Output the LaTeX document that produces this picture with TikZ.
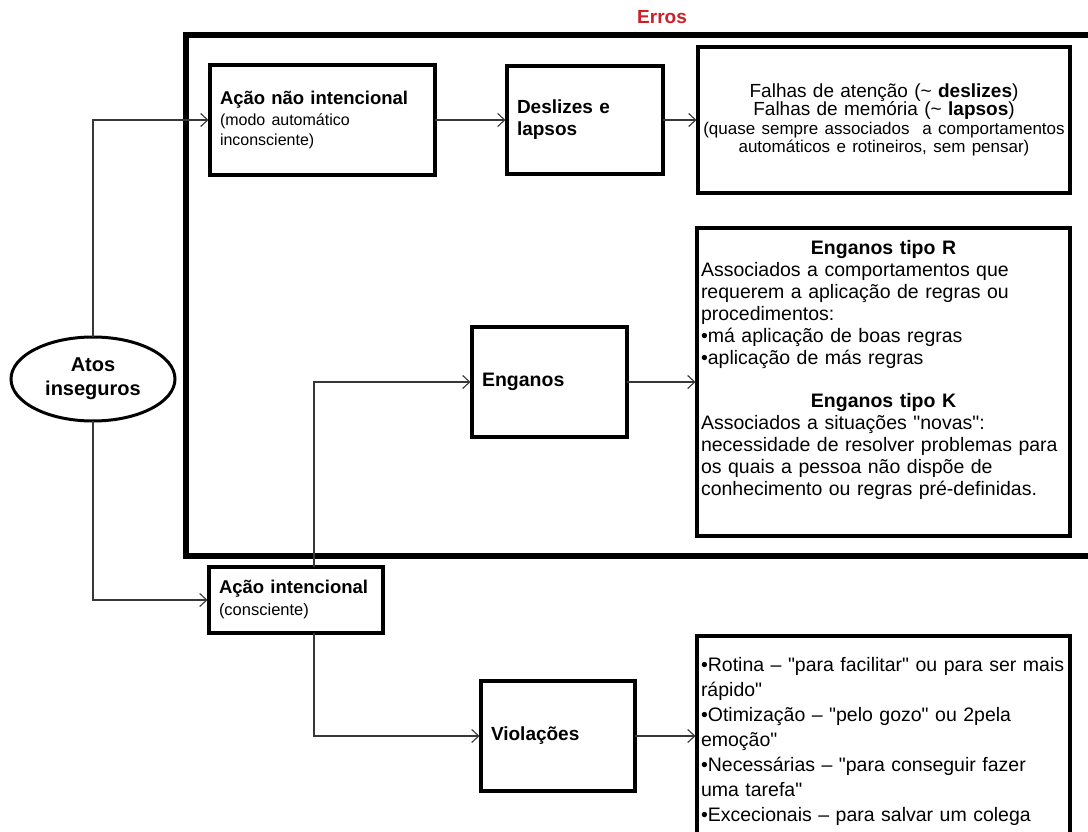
\documentclass[tikz,border=0pt]{standalone}
\usepackage{fontspec}
\setmainfont{Liberation Sans}
\usetikzlibrary{arrows.meta,shapes.geometric}
\definecolor{erroRed}{RGB}{204,32,40}
\definecolor{linkGray}{RGB}{55,55,55}
\newcommand{\fsz}[2]{\fontsize{#1}{#2}\selectfont}
\newcommand{\dq}{\textquotedbl{}}

\begin{document}
\begin{tikzpicture}[x=1pt,y=-1pt,
  every node/.style={inner sep=0pt, outer sep=0pt},
  box/.style={draw=black, line width=3.5pt, fill=white, rectangle,
    inner xsep=10pt, inner ysep=0pt, align=left},
  link/.style={draw=linkGray, line width=1.1pt,
    -{Straight Barb[length=7pt,width=13pt]}, shorten >=1.5pt},
  bodytext/.style={align=left, anchor=north west},
]
\useasboundingbox (0,0) rectangle (1088,832);
\clip (0,0) rectangle (1088,832);
\fill[white] (0,0) rectangle (1088,832);

% group frame "Erros"
\node[draw=black, line width=6pt, minimum width=914pt, minimum height=521pt]
  (errosFrame) at (643,295.5) {};
\node[font=\fsz{19}{20}\bfseries, text=erroRed] (errosLabel) at (662,17) {Erros};

% starting point
\node[draw=black, line width=3pt, ellipse, fill=white, minimum width=164pt,
  minimum height=84pt, align=center, font=\fsz{20}{24}\bfseries]
  (atos) at (93,379) {Atos\\inseguros};

% unintended action branch
\node[box, text width=205pt, minimum height=110pt, font=\fsz{18.5}{20.5}]
  (acaoNI) at (322.5,120)
  {{\bfseries Ação não intencional}\\{\fsz{16}{20.5}(modo automático}\\{\fsz{16}{20.5}inconsciente)}};
\node[box, text width=136pt, minimum height=108pt, font=\fsz{19}{22}\bfseries]
  (deslizes) at (585,120) {Deslizes e\\lapsos};
\node[box, inner xsep=4pt, text width=364pt, minimum height=146pt, align=center,
  font=\fsz{19}{18.5}]
  (falhas) at (884,120)
  {\mbox{Falhas de atenção (\textasciitilde{} \textbf{deslizes})}\\
   \mbox{Falhas de memória (\textasciitilde{} \textbf{lapsos})}\\
   \mbox{\fsz{17}{18.5}(quase sempre associados\ \ a comportamentos}\\
   \mbox{\fsz{17}{18.5}automáticos e rotineiros, sem pensar)}};

% mistakes
\node[box, text width=135pt, minimum height=110pt, font=\fsz{19.5}{22}\bfseries]
  (enganos) at (549.5,382) {Enganos};
\node[box, text width=353pt, minimum height=308pt] (rk) at (883.5,382) {};
\node[bodytext, text width=365pt, font=\fsz{19.5}{22}] (rkText) at (701,240)
  {\makebox[\hsize]{\bfseries Enganos tipo R}\\
   Associados a comportamentos que\\
   requerem a aplicação de regras ou\\
   procedimentos:\\
   •má aplicação de boas regras\\
   •aplicação de más regras\\[21pt]
   \makebox[\hsize]{\bfseries Enganos tipo K}\\
   Associados a situações \dq novas\dq:\\
   necessidade de resolver problemas para\\
   os quais a pessoa não dispõe de\\
   conhecimento ou regras pré-definidas.};

% intended action branch
\node[box, text width=154pt, minimum height=66pt, font=\fsz{18.5}{22}]
  (acaoI) at (296,600)
  {{\bfseries Ação intencional}\\{\fsz{16.5}{22}(consciente)}};
\node[box, text width=134pt, minimum height=110pt, font=\fsz{19}{22}\bfseries]
  (violacoes) at (558,736) {Violações};
\node[box, text width=353pt, minimum height=200pt] (vlist) at (883.5,736) {};
\node[bodytext, text width=380pt, font=\fsz{19.5}{25}] (vText) at (701,657)
  {•Rotina – \dq para facilitar\dq{} ou para ser mais\\
   rápido\dq\\
   •Otimização – \dq pelo gozo\dq{} ou 2pela\\
   emoção\dq\\
   •Necessárias – \dq para conseguir fazer\\
   uma tarefa\dq\\
   •Excecionais – para salvar um colega};

% connectors
\draw[link] (atos.north) |- (acaoNI.west);
\draw[link] (atos.south) |- (acaoI.west);
\draw[link] (acaoNI.east) -- (deslizes.west);
\draw[link] (deslizes.east) -- (falhas.west);
\draw[link] ([xshift=18pt]acaoI.north) |- (enganos.west);
\draw[link] ([xshift=18pt]acaoI.south) |- (violacoes.west);
\draw[link] (enganos.east) -- (rk.west);
\draw[link] (violacoes.east) -- (vlist.west);
\end{tikzpicture}
\end{document}
